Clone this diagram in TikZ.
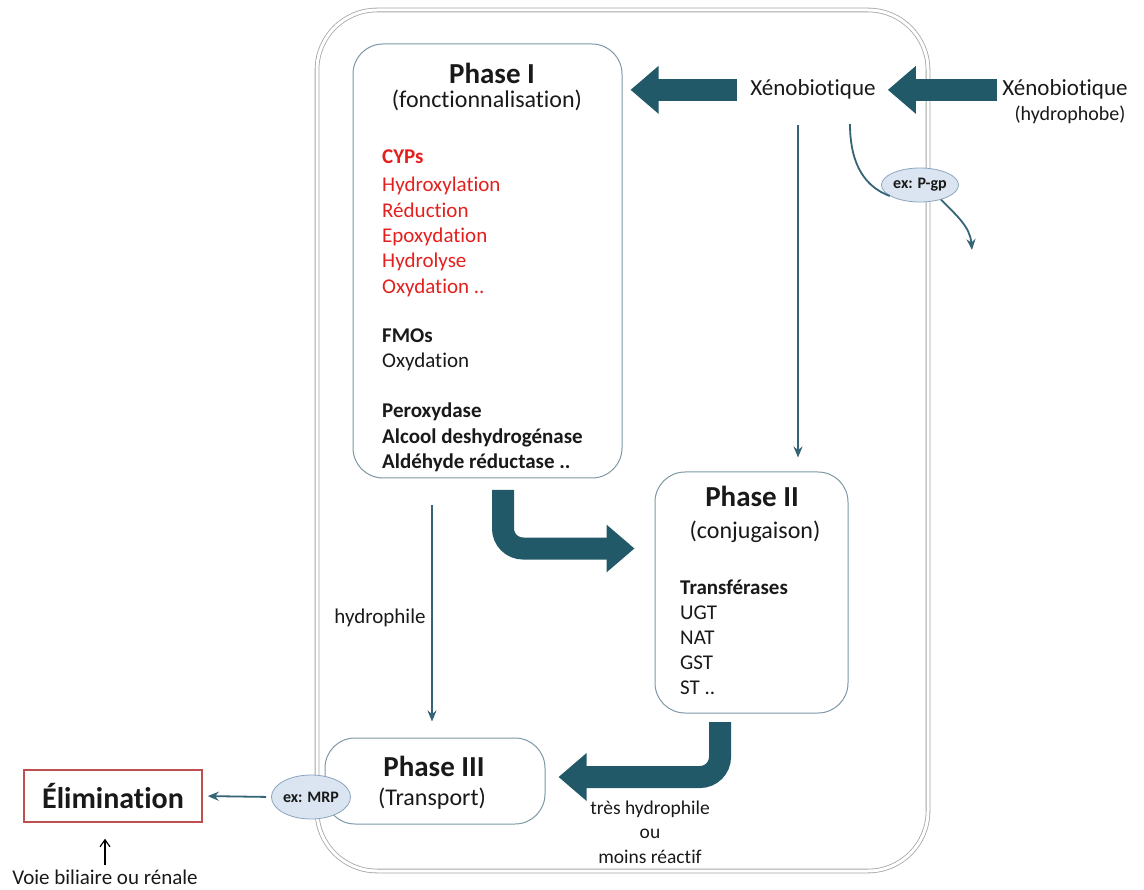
\documentclass[tikz,border=0pt]{standalone}
\usepackage{fontspec}
\setmainfont[Ligatures=NoCommon]{Carlito}
\usetikzlibrary{arrows.meta,shapes.geometric}

\definecolor{arrowteal}{RGB}{33,89,104}
\definecolor{thinteal}{RGB}{52,100,118}
\definecolor{boxline}{RGB}{125,152,165}
\definecolor{cellgray}{RGB}{165,165,165}
\definecolor{protfill}{RGB}{218,229,241}
\definecolor{protline}{RGB}{140,165,190}
\definecolor{cypred}{RGB}{228,32,30}
\definecolor{elimred}{RGB}{192,80,77}
\definecolor{txt}{RGB}{25,25,25}

\newcommand{\fs}[1]{\fontsize{#1}{#1}\selectfont}

\begin{document}
\begin{tikzpicture}[x=1pt,y=-1pt,
  every node/.style={inner sep=0pt, text=txt},
  phasebox/.style={draw=boxline, line width=1pt, fill=white, rounded corners=30pt},
  title/.style={anchor=base, font=\bfseries\fs{29}},
  subtitle/.style={anchor=base, font=\fs{24}},
  item/.style={anchor=base west, font=\fs{21}},
  bigarrow/.style={draw=arrowteal, line width=22pt, -{Triangle[length=28pt,width=46pt]}},
  thinarrow/.style={draw=thinteal, line width=1.8pt, -{Stealth[length=11pt,width=9pt]}},
  protein/.style={ellipse, draw=protline, fill=protfill, line width=0.8pt, font=\bfseries\fs{16}}]
\useasboundingbox (0,0) rectangle (1144,890);

% the cell
\draw[draw=cellgray, line width=0.8pt, double=white, double distance=3pt, rounded corners=60pt]
  (317,10) rectangle (928,871);

% phase boxes
\node[phasebox, minimum width=269pt, minimum height=434pt] (p1) at (487.5,261) {};
\node[phasebox, minimum width=193pt, minimum height=241pt] (p2) at (751.5,592.5) {};
\node[phasebox, minimum width=220pt, minimum height=86pt] (p3) at (435,781) {};

\node[title] (p1t) at (492,84) {Phase I};
\node[subtitle] (p1s) at (487,108) {(fonctionnalisation)};
\node[item, text=cypred, font=\bfseries\fs{21}] (cyp) at (382,164) {CYPs};
\foreach \t [count=\i from 0] in {Hydroxylation, Réduction, Epoxydation, Hydrolyse, Oxydation ..}
  \node[item, text=cypred] (cyp\i) at (382,192+25.3*\i) {\t};
\node[item, font=\bfseries\fs{21}] (fmo) at (382,343) {FMOs};
\node[item] (fmo1) at (382,368) {Oxydation};
\foreach \t [count=\i from 0] in {Peroxydase, Alcool deshydrogénase, Aldéhyde réductase ..}
  \node[item, font=\bfseries\fs{21}] (enz\i) at (382,418+25.3*\i) {\t};

\node[title] (p2t) at (752,507) {Phase II};
\node[subtitle] (p2s) at (755,538) {(conjugaison)};
\node[item, font=\bfseries\fs{21}] (trf) at (680,594) {Transférases};
\foreach \t [count=\i from 0] in {UGT, NAT, GST, ST ..}
  \node[item] (trf\i) at (680,619+25.3*\i) {\t};

\node[title] (p3t) at (434,776) {Phase III};
\node[subtitle] (p3s) at (432,805) {(Transport)};

% xenobiotique
\node[anchor=base, font=\fs{23}] (xeno) at (813,96) {Xénobiotique};
\node[anchor=base, font=\fs{23}] (xenoout) at (1065,96) {Xénobiotique};
\node[anchor=base, font=\fs{20}] (hydrophobe) at (1070,121) {(hydrophobe)};

\node[draw=elimred, line width=1.5pt, minimum width=178pt, minimum height=52pt,
  font=\bfseries\fs{30}] (elim) at (113,796) {Élimination};
\node[anchor=base, font=\fs{21}] (voie) at (105,884) {Voie biliaire ou rénale};

\node[anchor=base, font=\fs{21}] (hydro) at (380,623) {hydrophile};
\node[anchor=base, font=\fs{19.5}] (tres) at (650,814) {très hydrophile};
\node[anchor=base, font=\fs{19.5}] (ou) at (650,838) {ou};
\node[anchor=base, font=\fs{19.5}] (moins) at (650,863) {moins réactif};

% connectors
\coordinate (d1) at (798,125);
\coordinate (h1) at (432,505);
\coordinate (b1) at (503,490);
\coordinate (b2) at (720,722);
\coordinate (g1) at (850,124);
\coordinate (g2) at (972,250);

\draw[bigarrow, shorten <=5pt, shorten >=12pt] (xenoout.west) -- (xenoout.west -| xeno.east);
\draw[bigarrow, shorten <=13pt, shorten >=8pt] (xeno.west) -- (xeno.west -| p1.east);
\draw[bigarrow, rounded corners=20pt, shorten >=20pt] (b1) |- ([yshift=44pt]p2.west);
\draw[bigarrow, rounded corners=20pt, shorten >=13pt] (b2) |- ([yshift=4pt]p3.east);

\draw[thinarrow, shorten >=14pt] (d1) -- (d1 |- p2.north);
\draw[thinarrow, shorten >=16pt] (h1) -- (h1 |- p3.north);

\node[protein, minimum width=77pt, minimum height=34pt] (pgp) at (920,185) {ex: P-gp};
\node[protein, minimum width=58pt, minimum height=44pt] (mrp) at (311,797) {ex: MRP};

\draw[draw=thinteal, line width=1.8pt] (g1) to[out=-90, in=160] (pgp.200);
\draw[thinarrow] (pgp.-35) to[out=-45, in=95] (g2);
\draw[thinarrow, shorten <=5pt, shorten >=5pt] (mrp.west) -- (elim.east);
\draw[-{Straight Barb[length=7pt,width=10pt]}, line width=1.2pt, shorten <=4pt, shorten >=16pt] (voie.north) -- (voie.north |- elim.south);
\end{tikzpicture}
\end{document}
